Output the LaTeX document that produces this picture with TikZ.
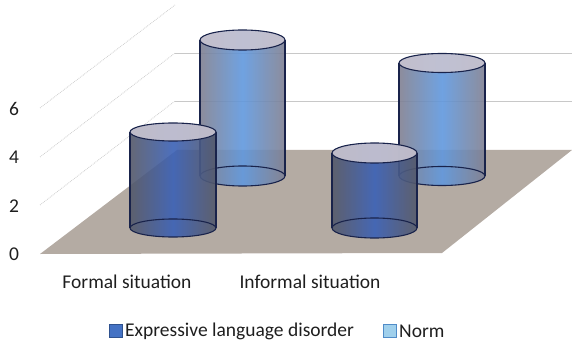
\documentclass[tikz,border=0pt]{standalone}
\usepackage{fontspec}
\setmainfont{Carlito}
\definecolor{floorcol}{RGB}{180,171,163}
\definecolor{gridcol}{RGB}{200,200,200}
\definecolor{cylline}{RGB}{25,35,75}
\definecolor{topcol}{RGB}{201,197,210}
\definecolor{dkedge}{RGB}{84,88,104}
\definecolor{dkmid}{RGB}{58,96,182}
\definecolor{nmedge}{RGB}{128,128,145}
\definecolor{nmmid}{RGB}{96,152,222}
\definecolor{txtcol}{RGB}{30,30,30}
\definecolor{legdk}{RGB}{68,114,196}
\definecolor{legdkb}{RGB}{47,82,143}
\definecolor{legnm}{RGB}{160,208,236}
\definecolor{legnmb}{RGB}{80,140,200}
\tikzset{
  lbl/.style={font=\fontsize{19.5}{22}\selectfont, text=txtcol, inner sep=0pt},
  darkside/.style={left color=dkedge, right color=dkedge, middle color=dkmid, fill opacity=0.9},
  normside/.style={left color=nmedge, right color=nmedge, middle color=nmmid, fill opacity=0.9},
  cyl/.style={draw=cylline, line width=1.1pt},
  wallgrid/.style={draw=gridcol, line width=0.8pt},
  sidegrid/.style={draw=gray!40, line width=0.8pt, densely dotted},
}
\newcommand{\drawcylinder}[6]{%
  \pgfmathsetmacro\cylcx{(#1+#2)/2}%
  \pgfmathsetmacro\cylrx{(#2-#1)/2}%
  \pgfmathsetmacro\cylyt{343-#3}%
  \pgfmathsetmacro\cylyb{343-#4}%
  \path[#6] (#1,\cylyt) -- (#1,\cylyb) arc[start angle=180,end angle=360,x radius=\cylrx,y radius=#5] -- (#2,\cylyt) arc[start angle=0,end angle=180,x radius=\cylrx,y radius=#5] -- cycle;
  \draw[cyl] (\cylcx,\cylyb) ellipse[x radius=\cylrx,y radius=#5];
  \draw[cyl] (#1,\cylyt) -- (#1,\cylyb);
  \draw[cyl] (#2,\cylyt) -- (#2,\cylyb);
  \draw[cyl, fill=topcol, fill opacity=0.9] (\cylcx,\cylyt) ellipse[x radius=\cylrx,y radius=#5];
}
\begin{document}
\begin{tikzpicture}[x=1pt,y=1pt]
\useasboundingbox (0,0) rectangle (572,343);
% walls grid
\coordinate (g2a) at (40,138); \coordinate (g2b) at (175,242); \coordinate (g2c) at (572,242);
\coordinate (g4a) at (40,186); \coordinate (g4b) at (175,290); \coordinate (g4c) at (572,290);
\coordinate (g6a) at (40,235); \coordinate (g6b) at (175,338);
\draw[sidegrid] (g2a) -- (g2b);
\draw[sidegrid] (g4a) -- (g4b);
\draw[sidegrid] (g6a) -- (g6b);
\draw[wallgrid] (g2b) -- (g2c);
\draw[wallgrid] (g4b) -- (g4c);
% floor
\coordinate (f1) at (40,89); \coordinate (f2) at (442,90);
\coordinate (f3) at (572,193); \coordinate (f4) at (177,193);
\fill[floorcol] (f1) -- (f2) -- (f3) -- (f4) -- cycle;
% back cylinders (Norm)
\drawcylinder{200}{285}{40}{176}{10}{normside}
\drawcylinder{399}{485}{63}{176}{9.5}{normside}
% front cylinders (Expressive language disorder)
\drawcylinder{130}{216}{132}{228}{9}{darkside}
\drawcylinder{332}{417}{153}{228}{10}{darkside}
% axis labels
\node[lbl] (y0) at (14,89) {0};
\node[lbl] (y2) at (14,137) {2};
\node[lbl] (y4) at (14,186) {4};
\node[lbl] (y6) at (14,234) {6};
% categories
\node[lbl] (c1) at (127,61) {Formal situation};
\node[lbl] (c2) at (310,61) {Informal situation};
% legend
\node[draw=legdkb, fill=legdk, line width=0.8pt, minimum size=13pt, inner sep=0pt] (k1) at (116,12) {};
\node[lbl, anchor=west] (t1) at (125,12) {Expressive language disorder};
\node[draw=legnmb, fill=legnm, line width=0.8pt, minimum size=13pt, inner sep=0pt] (k2) at (390,12) {};
\node[lbl, anchor=west] (t2) at (399,12) {Norm};
\end{tikzpicture}
\end{document}
